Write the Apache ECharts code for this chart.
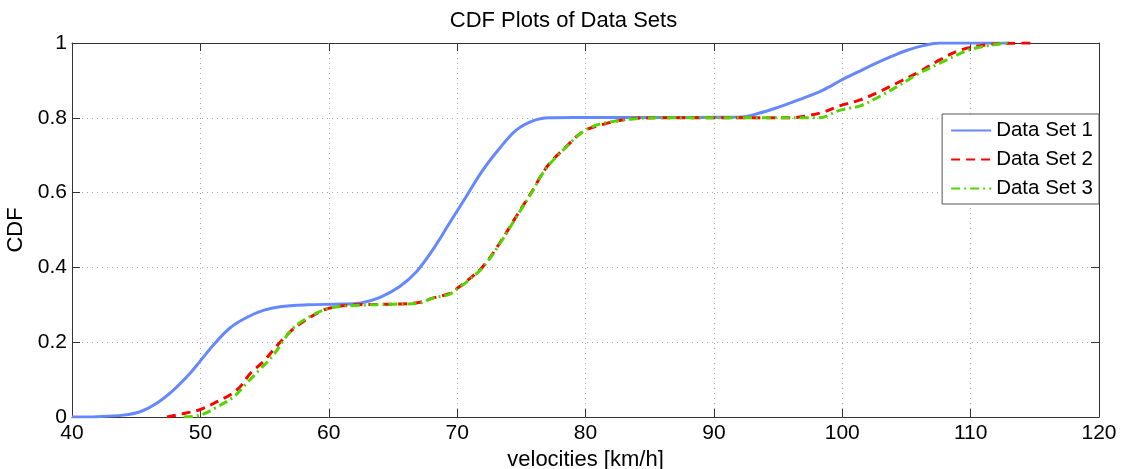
<!DOCTYPE html>
<html>
<head>
<meta charset="utf-8">
<script src="https://cdn.jsdelivr.net/npm/echarts@6/dist/echarts.min.js"></script>
<style>html,body{margin:0;padding:0;background:#fff}#c{width:1127px;height:469px}</style>
</head>
<body>
<div id="c"></div>
<script>
const seriesNames = ['Data Set 1', 'Data Set 2', 'Data Set 3'];
const xTicks = [40, 50, 60, 70, 80, 90, 100, 110, 120];
const yTicks = [0, 0.2, 0.4, 0.6, 0.8, 1];

const ds1X = [40, 42, 44, 45.3, 46.6, 47.9, 49.2, 50, 51, 52.3, 53.6, 54.9, 56.2, 58.3, 61, 62.5, 64, 65.5, 66.85, 68.1, 69.4, 70.7, 72, 73.3, 74.6, 75.9, 77.2, 79, 85, 92, 93.5, 95, 96.7, 98.5, 100, 101.2, 102.4, 103.7, 105, 106.3, 107.6, 110, 113];
const ds1Y = [0, 0.001, 0.005, 0.014, 0.037, 0.072, 0.117, 0.15, 0.192, 0.238, 0.266, 0.285, 0.295, 0.3, 0.302, 0.305, 0.32, 0.348, 0.389, 0.447, 0.518, 0.589, 0.66, 0.718, 0.767, 0.792, 0.8, 0.801, 0.801, 0.802, 0.812, 0.828, 0.849, 0.874, 0.902, 0.922, 0.942, 0.962, 0.98, 0.993, 1.0, 1.0, 1.0];

const ds2X = [47.4, 48.5, 50, 51.3, 52.3, 53.1, 53.9, 54.9, 55.9, 57, 58, 59.6, 60.6, 62, 65.5, 67, 68.1, 69.4, 70, 70.7, 72, 73.3, 74.6, 75.9, 76.5, 77.2, 78.5, 79.8, 81.1, 83.7, 86, 92, 96, 97.2, 98.5, 99.8, 101.4, 102.9, 104.5, 106, 107.6, 109.2, 111.2, 113, 115];
const ds2Y = [0, 0.008, 0.02, 0.041, 0.059, 0.081, 0.117, 0.148, 0.188, 0.228, 0.255, 0.286, 0.295, 0.3, 0.302, 0.306, 0.318, 0.33, 0.344, 0.362, 0.402, 0.464, 0.536, 0.607, 0.643, 0.678, 0.723, 0.763, 0.78, 0.798, 0.8, 0.8, 0.8, 0.805, 0.815, 0.832, 0.848, 0.87, 0.897, 0.923, 0.955, 0.981, 0.995, 0.999, 1.0];

const ds3X = [48.7, 50, 51.3, 52.6, 53.6, 54.6, 55.7, 56.5, 57.2, 58.5, 60.1, 62, 65.5, 67, 68.1, 69.4, 70, 70.7, 72, 73.3, 74.6, 75.9, 76.5, 77.2, 78.5, 79.8, 81.1, 83.7, 86, 92, 97, 98.2, 99.8, 101.4, 102.9, 104.5, 106, 107.6, 109.2, 110.2, 112.5, 113];
const ds3Y = [0, 0.005, 0.027, 0.054, 0.09, 0.126, 0.166, 0.206, 0.237, 0.268, 0.291, 0.298, 0.302, 0.304, 0.318, 0.328, 0.342, 0.36, 0.4, 0.462, 0.534, 0.605, 0.643, 0.676, 0.722, 0.763, 0.783, 0.797, 0.8, 0.8, 0.8, 0.8, 0.82, 0.832, 0.857, 0.888, 0.919, 0.946, 0.972, 0.985, 0.999, 1.0];

const pairs = (xs, ys) => xs.map((v, i) => [v, ys[i]]);
const FONT = 'Liberation Sans';

const chart = echarts.init(document.getElementById('c'), null, {renderer: 'canvas'});
const baseX = {
  type: 'value', min: xTicks[0], max: xTicks[xTicks.length - 1], interval: 10,
  axisLine: {show: true, onZero: false, lineStyle: {color: '#333', width: 1}},
  axisTick: {show: true, inside: true, length: 8, lineStyle: {color: '#333'}},
  splitLine: {show: false}
};
const baseY = {
  type: 'value', min: yTicks[0], max: yTicks[yTicks.length - 1], interval: 0.2,
  axisLine: {show: true, onZero: false, lineStyle: {color: '#333', width: 1}},
  axisTick: {show: true, inside: true, length: 8, lineStyle: {color: '#333'}},
  splitLine: {show: false}
};
chart.setOption({
  animation: false,
  backgroundColor: '#fff',
  title: {
    text: 'CDF Plots of Data Sets', left: 'center', top: 5,
    textStyle: {fontFamily: FONT, fontSize: 22, fontWeight: 'normal', color: '#000'}
  },
  grid: {left: 72, right: 28, top: 43, bottom: 52, containLabel: false, outerBoundsMode: 'none'},
  legend: {
    orient: 'vertical', right: 28, top: 114,
    data: seriesNames,
    itemWidth: 40, itemHeight: 14, itemGap: 8,
    padding: [6, 6, 5, 8],
    borderColor: '#555', borderWidth: 1, backgroundColor: '#fff',
    itemStyle: {opacity: 0},
    textStyle: {fontFamily: FONT, fontSize: 20.5, color: '#000'}
  },
  xAxis: [
    Object.assign({}, baseX, {
      position: 'bottom',
      name: 'velocities [km/h]', nameLocation: 'middle', nameGap: 25,
      nameTextStyle: {fontFamily: FONT, fontSize: 22, color: '#000'},
      axisLabel: {fontFamily: FONT, fontSize: 21, color: '#000', margin: 6},
      splitLine: {show: true, lineStyle: {type: [1, 4], color: '#aaa', width: 1}}
    }),
    Object.assign({}, baseX, {position: 'top', axisLabel: {show: false}})
  ],
  yAxis: [
    Object.assign({}, baseY, {
      position: 'left',
      name: 'CDF', nameLocation: 'middle', nameGap: 41,
      nameTextStyle: {fontFamily: FONT, fontSize: 22, color: '#000'},
      axisLabel: {fontFamily: FONT, fontSize: 21, color: '#000', margin: 5},
      splitLine: {show: true, lineStyle: {type: [1, 4], color: '#aaa', width: 1}}
    }),
    Object.assign({}, baseY, {position: 'right', axisLabel: {show: false}})
  ],
  series: [
    {
      name: seriesNames[0], type: 'line', data: pairs(ds1X, ds1Y),
      showSymbol: false, symbol: 'none', smooth: 0.35,
      lineStyle: {color: '#6688ff', width: 3, type: 'solid'},
      itemStyle: {color: '#6688ff'}
    },
    {
      name: seriesNames[1], type: 'line', data: pairs(ds2X, ds2Y),
      showSymbol: false, symbol: 'none', smooth: 0.35,
      lineStyle: {color: '#ff0000', width: 3, type: [9, 6]},
      itemStyle: {color: '#ff0000'}
    },
    {
      name: seriesNames[2], type: 'line', data: pairs(ds3X, ds3Y),
      showSymbol: false, symbol: 'none', smooth: 0.35,
      lineStyle: {color: '#55d400', width: 3, type: [9, 4, 2, 4]},
      itemStyle: {color: '#55d400'}
    }
  ]
});
</script>
</body>
</html>
